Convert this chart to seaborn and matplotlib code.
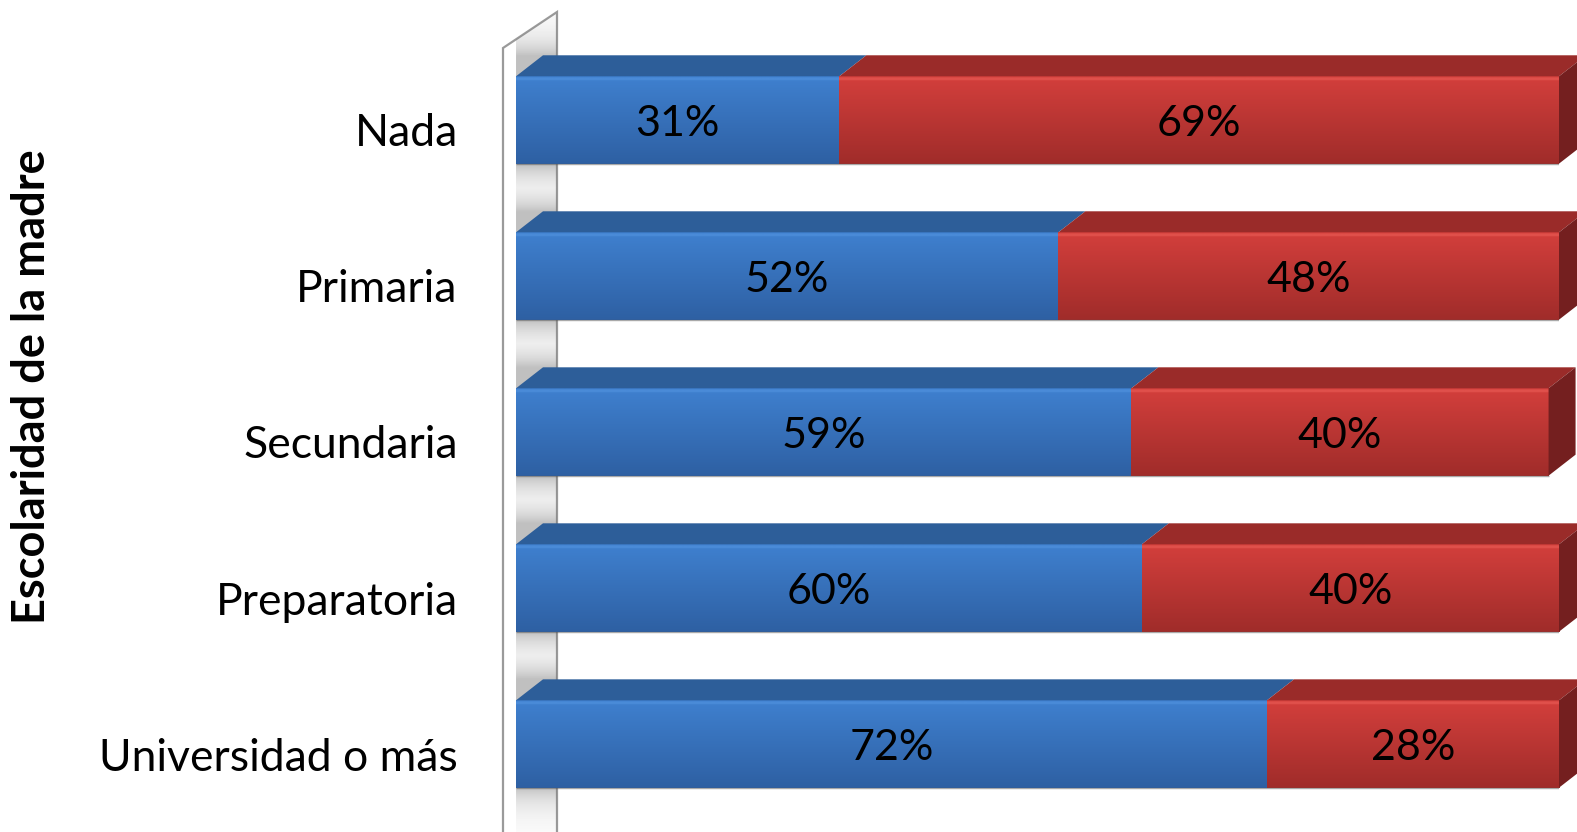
import numpy as np
import pandas as pd
import matplotlib
matplotlib.use("Agg")
import matplotlib.pyplot as plt
import matplotlib.transforms as mtransforms
import seaborn as sns
from matplotlib.patches import Polygon

# ---------------- data ----------------
categories = ["Nada", "Primaria", "Secundaria", "Preparatoria", "Universidad o más"]
blue_values = [31, 52, 59, 60, 72]
red_values = [69, 48, 40, 40, 28]
blue_labels = ["31%", "52%", "59%", "60%", "72%"]
red_labels = ["69%", "48%", "40%", "40%", "28%"]
y_title = "Escolaridad de la madre"

# ---------------- style ----------------
sns.set_theme(style="white")
plt.rcParams['font.family'] = ['Lato', 'DejaVu Sans']

W, H = 1577, 832
fig = plt.figure(figsize=(W / 100, H / 100), dpi=100)
ax = fig.add_axes([516 / W, 0, (1559 - 516) / W, 1])

df = pd.DataFrame({"cat": categories, "blue": blue_values, "red": red_values})
df["total"] = df["blue"] + df["red"]
bw = 0.56
sns.barplot(data=df, y="cat", x="total", color="#c53a37", width=bw, ax=ax,
            saturation=1, orient="h", order=categories)
sns.barplot(data=df, y="cat", x="blue", color="#3873c0", width=bw, ax=ax,
            saturation=1, orient="h", order=categories)
ax.set_xlim(0, 100)
ax.set_ylim(4.564, -0.769)
for p in ax.patches:
    p.set_linewidth(0)
    p.set_alpha(0)

DX, DY = 27, 21  # depth offset in pixels


def off(x, y, ox, oy):
    px, py = ax.transData.transform((x, y))
    return tuple(ax.transData.inverted().transform((px + ox, py + oy)))


def grad(c_top, c_bot, n=64):
    t = np.linspace(0, 1, n)[:, None]
    a = np.array(matplotlib.colors.to_rgb(c_top))
    b = np.array(matplotlib.colors.to_rgb(c_bot))
    g = a * (1 - t) + b * t
    return g[:, None, :]


blue_front = grad("#3f80cf", "#2e60a3")
red_front = grad("#d33f3c", "#a02c2a")
blue_front[1:3] = matplotlib.colors.to_rgb("#4a8bd8")
red_front[1:3] = matplotlib.colors.to_rgb("#e0504b")
blue_top = "#2d5e99"
red_top = "#9a2b29"

# ---------------- wall ----------------
wx0 = off(0, 0, -13, 0)[0]
wall_top = ax.transData.inverted().transform(ax.transAxes.transform((0, 1 - 48 / H)))[1]
wall_bot = 5.2
A = (wx0, wall_bot)
B = (wx0, wall_top)
C = off(wx0, wall_top, 2 * DX, 2 * DY - 6)
D = off(wx0, wall_bot, 2 * DX, 2 * DY - 6)
wall = Polygon([A, B, C, D], closed=True, facecolor="white", edgecolor="#9a9a9a",
               lw=1.6, zorder=1, clip_on=False)
ax.add_patch(wall)

# soft shadows on the wall
xs = np.linspace(wx0, C[0], 80)
ys = np.linspace(C[1], wall_bot, 600)
XX, YY = np.meshgrid(xs, ys)
px_per_y = abs(ax.transData.transform((0, 1))[1] - ax.transData.transform((0, 0))[1])
px_per_x = abs(ax.transData.transform((1, 0))[0] - ax.transData.transform((0, 0))[0])
shade = np.zeros_like(YY)
xfac = np.clip((XX - wx0) * px_per_x / 14, 0, 1)
for i in range(len(categories)):
    top = off(0, i - bw / 2, 0, DY)[1]
    bot = i + bw / 2
    d = np.where(YY < top, top - YY, np.where(YY > bot, YY - bot, 0)) * px_per_y
    shade = np.maximum(shade, 0.45 * np.exp(-d / 18))
shade = shade * (0.4 + 0.6 * xfac)
img = np.zeros(YY.shape + (4,))
img[..., :3] = 0.45
img[..., 3] = shade
im = ax.imshow(img, extent=(xs[0], xs[-1], ys[-1], ys[0]), aspect="auto",
               interpolation="bilinear", zorder=1.5, origin="upper")
im.set_clip_path(wall)

# ---------------- 3D bars ----------------
lab_shift = mtransforms.ScaledTranslation(0, -4 / 100, fig.dpi_scale_trans)
for i, cat in enumerate(categories):
    b = blue_values[i]
    r = red_values[i]
    yt, yb = i - bw / 2, i + bw / 2
    segs = [(0, b, blue_front, blue_top, blue_labels[i]),
            (b, b + r, red_front, red_top, red_labels[i])]
    for x0, x1, front, topc, lab in segs:
        ax.imshow(front, extent=(x0, x1, yb, yt), aspect="auto",
                  interpolation="bilinear", zorder=3, origin="upper")
        poly = [(x0, yt), (x1, yt), off(x1, yt, DX, DY), off(x0, yt, DX, DY)]
        ax.add_patch(Polygon(poly, closed=True, facecolor=topc, edgecolor="none",
                             zorder=3, clip_on=False))
        ax.text((x0 + x1) / 2, i, lab, ha="center", va="center", fontsize=31,
                color="black", zorder=5, transform=ax.transData + lab_shift)
    xe = b + r
    side = [(xe, yt), off(xe, yt, DX, DY), off(xe, yb, DX, DY), (xe, yb)]
    ax.add_patch(Polygon(side, closed=True, facecolor="#741f1f", edgecolor="none",
                         zorder=3, clip_on=False))
    ax.plot([0, xe], [yb, yb], color="#555555", lw=1, alpha=0.5, zorder=3.5,
            solid_capstyle="butt")

ax.set_xlim(0, 100)
ax.set_ylim(4.564, -0.769)

# ---------------- axes cosmetics ----------------
for s in ax.spines.values():
    s.set_visible(False)
ax.set_xticks([])
ax.set_xlabel("")
ax.set_ylabel("")
ax.tick_params(axis="y", length=0, pad=42, labelsize=32, labelcolor="black")
ax.set_yticks(range(len(categories)))
ax.set_yticklabels(categories)
tick_shift = mtransforms.ScaledTranslation(0, -10 / 100, fig.dpi_scale_trans)
for t in ax.get_yticklabels():
    t.set_transform(t.get_transform() + tick_shift)
ax.patch.set_alpha(0)

fig.text(32 / W, 1 - 387 / H, y_title, rotation=90, ha="center", va="center",
         fontsize=32.5, fontweight="bold", color="black")

fig.savefig("out.png", dpi=100)
